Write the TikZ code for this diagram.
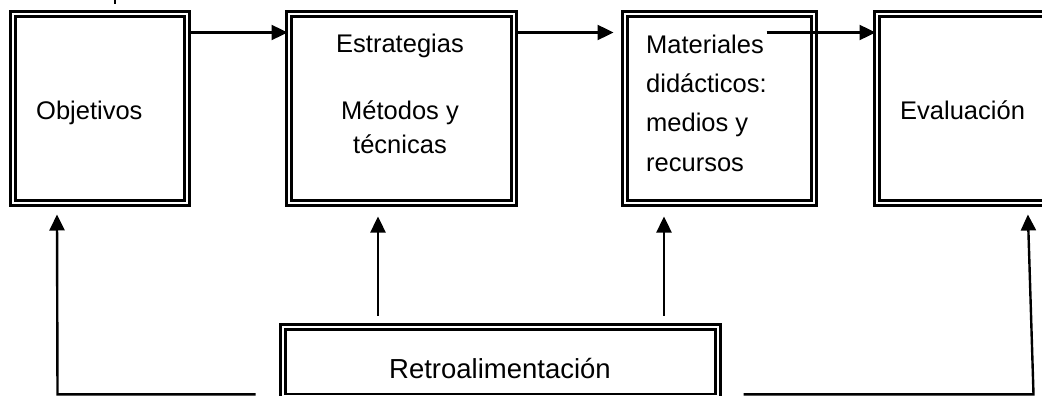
\documentclass[tikz,border=0pt]{standalone}
\usepackage{fontspec}
\setmainfont{Liberation Sans}
\usetikzlibrary{arrows.meta}
\tikzset{
  frame/.style={draw, double=white, line width=2.8pt, double distance=2.2pt,
    inner sep=0pt, minimum height=189.2pt},
  flow/.style={-{Triangle[length=16pt,width=15pt]}, line width=2.4pt},
  lbl/.style={inner sep=0pt, font=\fontsize{25.5}{33.5}\selectfont}
}
\begin{document}
\begin{tikzpicture}[x=1pt, y=-1pt]
\useasboundingbox (0,0) rectangle (1042,396);
\clip (0,0) rectangle (1042,396);

% Boxes
\node[frame, minimum width=174.2pt] (obj) at (100,108.5) {};
\node[frame, minimum width=225.2pt] (estr) at (401.5,108.5) {};
\node[frame, minimum width=189.2pt] (mat) at (719.5,108.5) {};
\node[frame, minimum width=200pt] (eval) at (976.9,108.5) {};
\node[frame, minimum width=435.2pt, minimum height=69.6pt] (retro) at (500.5,361.7) {};

% Labels
\node[lbl, anchor=base west] (tobj) at (36,120) {Objetivos};
\node[lbl, align=center] (testr) at (400,94) {Estrategias\\[33.5pt]Métodos y\\técnicas};
\node[lbl, align=left, anchor=west, font=\fontsize{25.5}{39.3}\selectfont] (tmat) at (646,103) {Materiales\\didácticos:\\medios y\\recursos};
\node[lbl, anchor=base west] (teval) at (900,120) {Evaluación};
\node[lbl, anchor=base, font=\fontsize{27.5}{30}\selectfont] (tretro) at (500,378) {Retroalimentación};

% Top row arrows
\draw[flow] ([yshift=-20pt]obj.north east) -- ([yshift=-20pt]estr.north west);
\draw[flow] ([yshift=-20pt]estr.north east) -- ([xshift=-10pt,yshift=-20pt]mat.north west);
\draw[flow] ([xshift=-49pt,yshift=-20pt]mat.north east) -- ([yshift=-20pt]eval.north west);

% Feedback arrows
\draw[flow] ([xshift=-122.5pt,yshift=10pt]retro.north) -- ([xshift=-23.5pt,yshift=-12pt]estr.south);
\draw[flow] ([xshift=163.5pt,yshift=10pt]retro.north) -- ([xshift=-55.5pt,yshift=-12pt]mat.south);
\draw[flow] ([xshift=-26pt,yshift=3.5pt]retro.south west) -- ++(-198,0)
  -- ([xshift=-43pt,yshift=-10pt]obj.south);
\draw[flow] ([xshift=24pt,yshift=3.5pt]retro.south east) -- ++(290,0)
  -- ([xshift=51pt,yshift=-10pt]eval.south);

% Stray mark at the top edge
\draw[line width=2pt] (115,0) -- (115,4);
\end{tikzpicture}
\end{document}
